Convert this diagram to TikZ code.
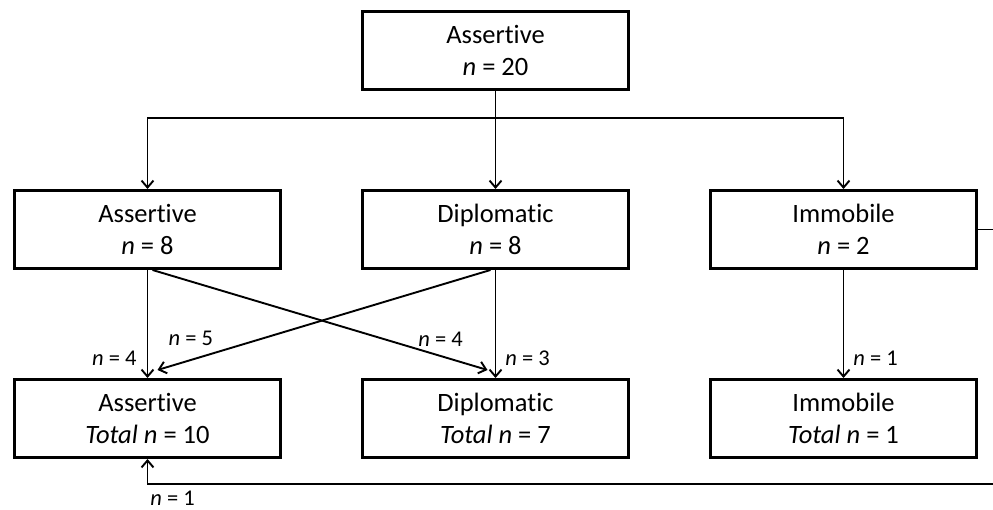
\documentclass[tikz,border=0pt]{standalone}
\usepackage{fontspec}
\setmainfont{Carlito}[Ligatures=NoCommon]
\usetikzlibrary{arrows.meta,positioning}

\begin{document}
\begin{tikzpicture}[->,>={Straight Barb[length=7pt,width=12pt]},line width=1.9pt,auto,node distance=98pt and 79pt,
  main node/.style={rectangle,draw,line width=2.6pt,minimum width=266.4pt,minimum height=78.4pt,align=center,font=\fontsize{26.5}{32}\selectfont},
  count/.style={font=\fontsize{22.5}{22.5}\selectfont,inner sep=2pt}]
  \useasboundingbox (0,0) rectangle (993pt,-510pt);
  \node[main node] (1) at (495.5pt,-50.5pt) {Assertive\\\textit{n} = 20};
  \node[main node] (3) [below=of 1] {Diplomatic\\\textit{n} = 8};
  \node[main node] (2) [left=of 3] {Assertive\\\textit{n} = 8};
  \node[main node] (4) [right=of 3] {Immobile\\\textit{n} = 2};
  \node[main node] (5) [below=108pt of 2] {Assertive\\\textit{Total n} = 10};
  \node[main node] (6) [below=108pt of 3] {Diplomatic\\\textit{Total n} = 7};
  \node[main node] (7) [below=108pt of 4] {Immobile\\\textit{Total n} = 1};
  % split of the first group
  \path (1.south) ++(0,-27pt) coordinate (bus);
  \path (5.south) ++(0,-25pt) coordinate (back);
  \draw[-] (1) -- (bus);
  \draw (bus) -| (2);
  \draw (bus) -- (3);
  \draw (bus) -| (4);
  % second step
  \draw (2) -- node[count,swap,pos=.82,left=8pt] {\textit{n} = 4} (5);
  \draw (3) -- node[count,pos=.82,right=7pt] {\textit{n} = 3} (6);
  \draw (4) -- node[count,pos=.82,right=7pt] {\textit{n} = 1} (7);
  \draw ([xshift=5pt]2.south) -- node[count,pos=.86,above=7pt] {\textit{n} = 4} ([xshift=-8pt,yshift=8pt]6.north);
  \draw ([xshift=-5pt]3.south) -- node[count,pos=.9,above=11pt] {\textit{n} = 5} ([xshift=10pt,yshift=8pt]5.north);
  \draw (4.east) -- ++(30pt,0) |- (back) node[count,below right,yshift=-4pt] {\textit{n} = 1} -- (5);
\end{tikzpicture}
\end{document}
